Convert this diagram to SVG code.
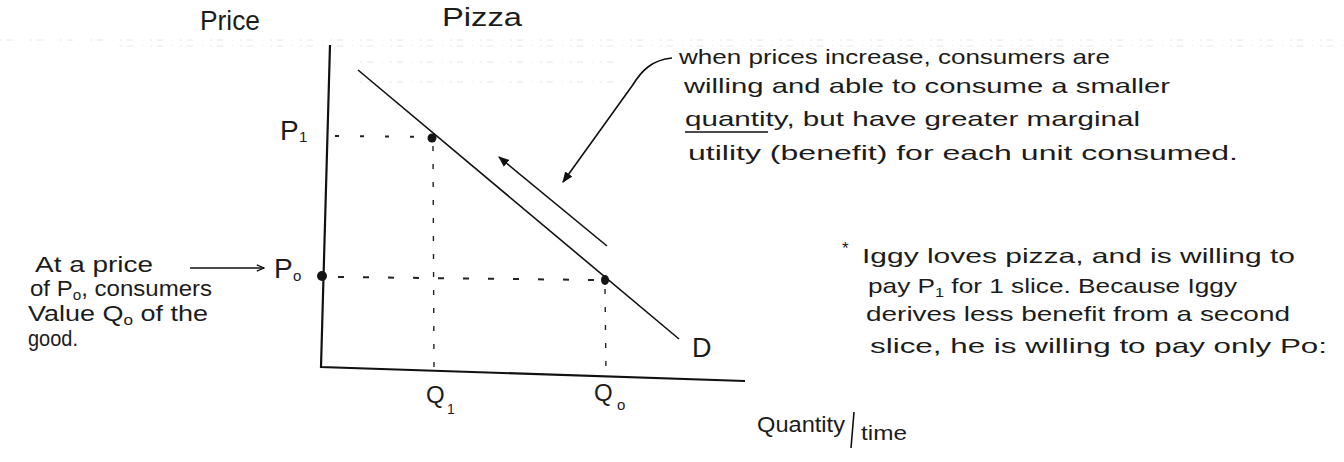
<svg xmlns="http://www.w3.org/2000/svg" width="1344" height="462" viewBox="0 0 1344 462">
<defs>
<marker id="fill" viewBox="0 0 10 10" refX="9" refY="5" markerWidth="11" markerHeight="11" markerUnits="userSpaceOnUse" orient="auto"><path d="M0,1 L10,5 L0,9 Z" fill="#111"/></marker>
<marker id="open" viewBox="0 0 10 10" refX="9" refY="5" markerWidth="9" markerHeight="9" markerUnits="userSpaceOnUse" orient="auto"><path d="M1,1.5 L9,5 L1,8.5" fill="none" stroke="#111" stroke-width="1.4"/></marker>
</defs>
<style>
.t{font-family:"Liberation Sans",Arial,sans-serif;fill:#1c1c1c}
.n{font-size:21px}
.l{font-size:22px}
.ax{stroke:#111;stroke-width:2.2;fill:none}
.ln{stroke:#111;stroke-width:1.6;fill:none}
.dh{stroke:#222;stroke-width:2;stroke-dasharray:6 19;fill:none}
.dv{stroke:#222;stroke-width:1.4;stroke-dasharray:5 13;fill:none}
.noise{stroke:#e6e6e6;stroke-width:1;stroke-dasharray:2 5 6 9 1 7;fill:none}
.dot{fill:#151515}
</style>
<rect width="1344" height="462" fill="#fff"/>
<g id="scan-noise">
<path class="noise" d="M0,40 H1344"/>
<path class="noise" d="M120,46 H1344"/>
<path class="noise" d="M360,62 H620"/>
<path class="noise" d="M360,82 H640"/>
</g>
<g id="axes">
<path class="ax" d="M330,45 L321,367 L745,381"/>
</g>
<g id="demand-curve">
<line class="ln" x1="358" y1="70" x2="679" y2="339"/>
<text class="t" x="692" y="357" font-size="27">D</text>
</g>
<g id="guides">
<line class="dh" x1="335" y1="136" x2="428" y2="137" style="stroke-dasharray:4 21"/>
<line class="dv" x1="433" y1="146" x2="434" y2="368"/>
<line class="dh" x1="338" y1="277" x2="598" y2="280"/>
<line class="dv" x1="605" y1="289" x2="606" y2="372"/>
</g>
<g id="point-p1"><circle class="dot" cx="432" cy="138" r="4.5"/></g>
<g id="point-p0"><circle class="dot" cx="322" cy="276" r="5"/></g>
<g id="point-q0"><ellipse class="dot" cx="605" cy="280" rx="4" ry="5"/></g>
<g id="labels">
<text class="t" x="200" y="30" font-size="27" textLength="60" lengthAdjust="spacingAndGlyphs">Price</text>
<text class="t" x="442" y="26" font-size="26" textLength="80" lengthAdjust="spacingAndGlyphs">Pizza</text>
<text class="t" x="280" y="140" font-size="28">P</text>
<text class="t" x="299" y="142" font-size="15">1</text>
<text class="t" x="274" y="278" font-size="28">P</text>
<text class="t" x="293" y="281" font-size="15">o</text>
<text class="t" x="426" y="403" font-size="24">Q</text>
<text class="t" x="447" y="414" font-size="14">1</text>
<text class="t" x="594" y="401" font-size="24">Q</text>
<text class="t" x="617" y="410" font-size="15">o</text>
<text class="t" x="757" y="432" font-size="22" textLength="88" lengthAdjust="spacingAndGlyphs">Quantity</text>
<line class="ln" x1="854" y1="412" x2="851" y2="448"/>
<text class="t" x="861" y="440" font-size="20" textLength="46" lengthAdjust="spacingAndGlyphs">time</text>
</g>
<g id="note-left">
<text class="t l" x="35" y="272" textLength="118" lengthAdjust="spacingAndGlyphs">At a price</text>
<text class="t l" x="30" y="296" textLength="182" lengthAdjust="spacingAndGlyphs">of P<tspan font-size="14" dy="4">o</tspan><tspan dy="-4">, consumers</tspan></text>
<text class="t l" x="28" y="321" textLength="180" lengthAdjust="spacingAndGlyphs">Value Q<tspan font-size="14" dy="4">o</tspan><tspan dy="-4"> of the</tspan></text>
<text class="t l" x="28" y="346" textLength="50" lengthAdjust="spacingAndGlyphs">good.</text>
</g>
<g id="note-top-right">
<text class="t n" x="679" y="64" textLength="431" lengthAdjust="spacingAndGlyphs">when prices increase, consumers are</text>
<text class="t n" x="684" y="93" textLength="486" lengthAdjust="spacingAndGlyphs">willing and able to consume a smaller</text>
<text class="t n" x="685" y="126" textLength="455" lengthAdjust="spacingAndGlyphs">quantity, but have greater marginal</text>
<line class="ln" x1="685" y1="132" x2="768" y2="132" style="stroke-width:1.4"/>
<text class="t n" x="688" y="160" textLength="550" lengthAdjust="spacingAndGlyphs">utility (benefit) for each unit consumed.</text>
</g>
<g id="note-iggy">
<text class="t" x="842" y="254" font-size="17">*</text>
<text class="t n" x="862" y="263" textLength="433" lengthAdjust="spacingAndGlyphs">Iggy loves pizza, and is willing to</text>
<text class="t n" x="868" y="293" textLength="369" lengthAdjust="spacingAndGlyphs">pay P<tspan font-size="13" dy="4">1</tspan><tspan dy="-4"> for 1 slice. Because Iggy</tspan></text>
<text class="t n" x="866" y="321" textLength="424" lengthAdjust="spacingAndGlyphs">derives less benefit from a second</text>
<text class="t n" x="870" y="353" textLength="457" lengthAdjust="spacingAndGlyphs">slice, he is willing to pay only Po:</text>
</g>
<g id="connectors">
<line class="ln" x1="607" y1="246" x2="499" y2="157" marker-end="url(#fill)"/>
<path class="ln" d="M672,58 C652,60 642,70 632,86 L563,182" marker-end="url(#fill)"/>
<line class="ln" x1="190" y1="268" x2="264" y2="268" marker-end="url(#open)"/>
</g>
</svg>
